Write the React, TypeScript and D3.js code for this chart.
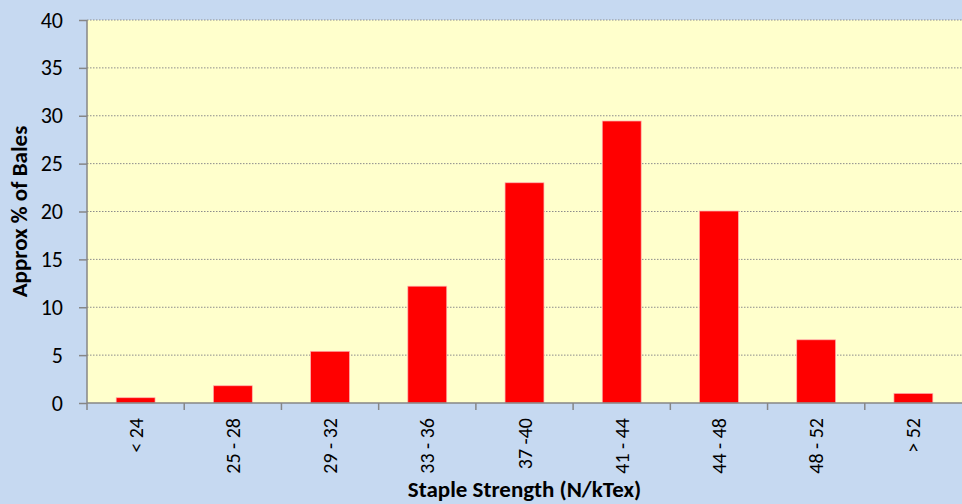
import React, { useRef, useEffect } from 'react';
import * as d3 from 'd3';

// Staple strength distribution
const categories = ['< 24', '25 - 28', '29 - 32', '33 - 36', '37 -40', '41 - 44', '44 - 48', '48 - 52', '> 52'];
const percentages = [0.55, 1.8, 5.4, 12.2, 23.0, 29.45, 20.05, 6.6, 1.0];
const yTicks = [0, 5, 10, 15, 20, 25, 30, 35, 40];

const App: React.FC = () => {
    const svgRef = useRef<SVGSVGElement | null>(null);

    useEffect(() => {
        if (!svgRef.current) return;
        const width = 962;
        const height = 504;
        const svg = d3.select(svgRef.current);
        svg.selectAll('*').remove();

        const margin = { top: 20, right: 0, bottom: 101, left: 87 };
        const innerWidth = width - margin.left - margin.right;
        const innerHeight = height - margin.top - margin.bottom;
        const font = 'Calibri, Carlito, Lato, sans-serif';
        const axisColor = '#868686';

        // background
        svg.append('rect').attr('width', width).attr('height', height).attr('fill', '#C6D9F1');

        const x = d3.scaleBand().domain(categories).range([0, innerWidth]).paddingInner(0.6).paddingOuter(0.3);
        const y = d3.scaleLinear().domain([0, 40]).range([innerHeight, 0]);

        const g = svg.append('g').attr('transform', `translate(${margin.left},${margin.top})`);

        g.append('rect').attr('width', innerWidth).attr('height', innerHeight).attr('fill', '#FFFFCC');

        // gridlines
        g.selectAll('.grid')
            .data(yTicks.filter((t) => t > 0))
            .enter()
            .append('line')
            .attr('x1', 0)
            .attr('x2', innerWidth)
            .attr('y1', (d) => y(d))
            .attr('y2', (d) => y(d))
            .attr('stroke', '#8c8c8c')
            .attr('stroke-width', 1)
            .attr('stroke-dasharray', '1.5,1.5');

        // bars
        g.selectAll('.bar')
            .data(percentages)
            .enter()
            .append('rect')
            .attr('x', (_, i) => x(categories[i])!)
            .attr('width', x.bandwidth())
            .attr('y', (d) => y(d))
            .attr('height', (d) => innerHeight - y(d))
            .attr('fill', '#FF0000')
            .attr('stroke', '#FFB0B0')
            .attr('stroke-width', 0.7);

        // y axis
        const yAxis = g.append('g').call(d3.axisLeft(y).tickValues(yTicks).tickSize(8).tickPadding(16));
        yAxis.select('.domain').attr('stroke', axisColor).attr('stroke-width', 1.5).attr('d', `M0,${innerHeight}V0`);
        yAxis.selectAll('.tick line').attr('stroke', axisColor).attr('stroke-width', 1.5);
        yAxis.selectAll('.tick text').attr('font-family', font).attr('font-size', 22).attr('fill', '#000');

        // x axis with ticks at category boundaries
        const xg = g.append('g').attr('transform', `translate(0,${innerHeight})`);
        xg.append('line').attr('x1', 0).attr('x2', innerWidth).attr('stroke', axisColor).attr('stroke-width', 1.5);
        const step = x.step();
        const bounds = d3.range(categories.length).map((i) => x(categories[i])! - (step - x.bandwidth()) / 2);
        xg.selectAll('.xtick')
            .data(bounds)
            .enter()
            .append('line')
            .attr('x1', (d) => d)
            .attr('x2', (d) => d)
            .attr('y1', 0)
            .attr('y2', 7)
            .attr('stroke', axisColor)
            .attr('stroke-width', 1.5);
        xg.selectAll('.xlabel')
            .data(categories)
            .enter()
            .append('text')
            .attr('transform', (d) => `translate(${x(d)! + x.bandwidth() / 2 + 7},15) rotate(-90)`)
            .attr('text-anchor', 'end')
            .attr('font-family', font)
            .attr('font-size', 20)
            .attr('fill', '#000')
            .text((d) => d);

        // axis titles
        svg.append('text')
            .attr('x', margin.left + innerWidth / 2)
            .attr('y', 497)
            .attr('text-anchor', 'middle')
            .attr('font-family', font)
            .attr('font-size', 23)
            .attr('font-weight', 'bold')
            .text('Staple Strength (N/kTex)');

        svg.append('text')
            .attr('transform', `translate(27,${margin.top + innerHeight / 2}) rotate(-90)`)
            .attr('text-anchor', 'middle')
            .attr('font-family', font)
            .attr('font-size', 23)
            .attr('font-weight', 'bold')
            .text('Approx % of Bales');
    }, []);

    return (
        <svg
            ref={svgRef}
            width={962}
            height={504}
            style={{ position: 'fixed', left: 0, top: 0, display: 'block' }}
        />
    );
};

export default App;
